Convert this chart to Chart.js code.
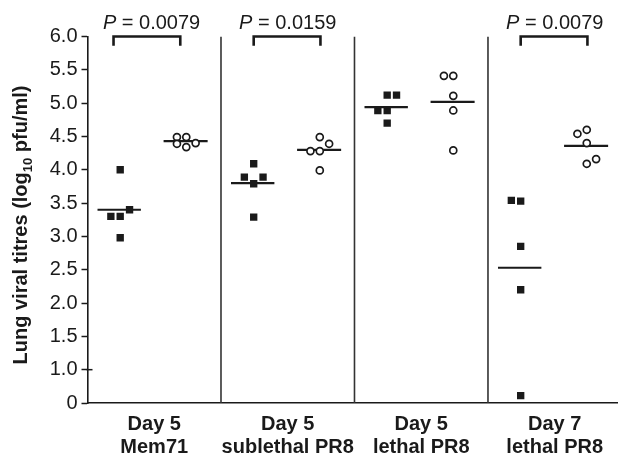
<!DOCTYPE html>
<html>
<head>
<meta charset="utf-8">
<script src="https://cdn.jsdelivr.net/npm/chart.js@4/dist/chart.umd.min.js"></script>
<style>
html,body{margin:0;padding:0;background:#fff;}
canvas{display:block;}
</style>
</head>
<body>
<canvas id="c" width="618" height="458"></canvas>
<script>
// ---- data ----
const categories = [['Day 5','Mem71'],['Day 5','sublethal PR8'],['Day 5','lethal PR8'],['Day 7','lethal PR8']];
const squareValues = [
  [4.00, 3.30, 3.30, 3.40, 2.98],
  [4.09, 3.89, 3.89, 3.79, 3.29],
  [5.12, 5.12, 4.89, 4.89, 4.70],
  [3.54, 3.53, 2.85, 2.20, 0.61]
];
const circleValues = [
  [4.49, 4.49, 4.39, 4.34, 4.40],
  [4.49, 4.39, 4.28, 4.28, 3.99],
  [5.41, 5.41, 5.11, 4.89, 4.29],
  [4.54, 4.60, 4.40, 4.09, 4.16]
];
const squareMeans = [3.40, 3.80, 4.94, 2.53];
const circleMeans = [4.43, 4.30, 5.02, 4.36];
const pValues = ['0.0079', '0.0159', null, '0.0079'];
const yTickValues = [0.5, 1.0, 1.5, 2.0, 2.5, 3.0, 3.5, 4.0, 4.5, 5.0, 5.5, 6.0];
const yTickLabels = ['0', '1.0', '1.5', '2.0', '2.5', '3.0', '3.5', '4.0', '4.5', '5.0', '5.5', '6.0'];
// jitter slots (horizontal placement of overlapping points)
const squareJitter = [[0,-1,0,1,0],[0,-1,1,0,0],[0,1,-1,0,0],[-1,0,0,0,0]];
const circleJitter = [[-1,0,-1,0,1],[0,1,-1,0,0],[-1,0,0,0,0],[-1,0,0,0,1]];
const bracketShift = [-0.05, 0, 0, 0];

// ---- layout constants ----
const SQ_OFF = -0.255, CI_OFF = 0.24, JIT = 0.07;
const INK = '#1a1a1a';
const FONT = '"Liberation Sans", Arial, sans-serif';

const datasets = [];
const sqPts = [], ciPts = [];
squareValues.forEach((arr, g) => arr.forEach((v, i) => sqPts.push({x: g + SQ_OFF + squareJitter[g][i]*JIT, y: v})));
circleValues.forEach((arr, g) => arr.forEach((v, i) => ciPts.push({x: g + CI_OFF + circleJitter[g][i]*JIT, y: v})));
datasets.push({type:'scatter', data: sqPts, pointStyle:'rect', pointRadius:5.2, pointHoverRadius:5.2,
  backgroundColor: INK, borderColor: INK, borderWidth: 0, order: 0});
datasets.push({type:'scatter', data: ciPts, pointStyle:'circle', pointRadius:3.5, pointHoverRadius:3.5,
  backgroundColor: '#fff', borderColor: INK, borderWidth: 1.7, order: 0});
squareMeans.forEach((m, g) => datasets.push({type:'line', data:[{x:g-0.425,y:m},{x:g-0.10,y:m}],
  borderColor: INK, borderWidth: 2.2, pointRadius: 0, order: 1}));
circleMeans.forEach((m, g) => datasets.push({type:'line', data:[{x:g+0.07,y:m},{x:g+0.40,y:m}],
  borderColor: INK, borderWidth: 2.2, pointRadius: 0, order: 1}));
[0.5, 1.5, 2.5].forEach(x => datasets.push({type:'line', data:[{x:x,y:0.5},{x:x,y:6.0}],
  borderColor: '#333', borderWidth: 1.6, pointRadius: 0, order: 3}));
pValues.forEach((p, g) => {
  if (!p) return;
  const a = g - 0.255 + bracketShift[g], b = g + 0.245 + bracketShift[g];
  datasets.push({type:'line', data:[{x:a,y:5.86},{x:a,y:6.0},{x:b,y:6.0},{x:b,y:5.86}],
    borderColor: INK, borderWidth: 2.6, pointRadius: 0, clip: false, order: 2, borderCapStyle:'butt', borderJoinStyle:'miter'});
});

const extras = {
  id: 'extras',
  afterDraw(chart) {
    const ctx = chart.ctx, xs = chart.scales.x, ys = chart.scales.y;
    ctx.save();
    ctx.fillStyle = INK;
    pValues.forEach((p, g) => {
      if (!p) return;
      const cx = xs.getPixelForValue(g + bracketShift[g]*0.4);
      const fi = 'italic 20px ' + FONT;
      const fr = '20px ' + FONT;
      ctx.font = fi; const wP = ctx.measureText('P').width;
      ctx.font = fr; const rest = ' = ' + p; const wR = ctx.measureText(rest).width;
      const x0 = cx - (wP + wR)/2, yb = 28.5;
      ctx.textBaseline = 'alphabetic'; ctx.textAlign = 'left';
      ctx.font = fi; ctx.fillText('P', x0, yb);
      ctx.font = fr; ctx.fillText(rest, x0 + wP, yb);
    });
    const parts = [['Lung viral titres (log', 'bold 20px ' + FONT, 0],
                   ['10', 'bold 13px ' + FONT, 5],
                   [' pfu/ml)', 'bold 20px ' + FONT, 0]];
    let total = 0;
    parts.forEach(p => { ctx.font = p[1]; p.push(ctx.measureText(p[0]).width); total += p[3]; });
    ctx.translate(27, 225);
    ctx.rotate(-Math.PI/2);
    let x = -total/2;
    parts.forEach(p => { ctx.font = p[1]; ctx.fillText(p[0], x, p[2]); x += p[3]; });
    ctx.restore();
    ctx.save();
    ctx.strokeStyle = INK; ctx.lineWidth = 1.5;
    const yy = ys.getPixelForValue(1.0), ax = chart.chartArea.left;
    ctx.beginPath(); ctx.moveTo(ax - 1, yy); ctx.lineTo(ax + 5, yy); ctx.stroke();
    ctx.restore();
  }
};

new Chart(document.getElementById('c'), {
  type: 'scatter',
  data: { datasets },
  options: {
    responsive: false,
    devicePixelRatio: 1,
    animation: false,
    events: [],
    layout: { autoPadding: false, padding: { left: 0, top: 36.5, right: 0, bottom: 0 } },
    plugins: { legend: { display: false }, tooltip: { enabled: false } },
    scales: {
      x: {
        type: 'linear', min: -0.5, max: 3.474,
        afterFit(s) { s.height = 55; s.paddingLeft = 0; s.paddingRight = 0; },
        afterBuildTicks(s) { s.ticks = categories.map((c, i) => ({value: i})); },
        grid: { display: false },
        border: { display: true, color: INK, width: 1.6 },
        ticks: {
          autoSkip: false, maxRotation: 0, padding: 2, color: INK,
          font: { family: FONT, size: 20, weight: 'bold', lineHeight: 1.165 },
          callback: (v) => categories[Math.round(v)]
        }
      },
      y: {
        type: 'linear', min: 0.5, max: 6.0,
        afterFit(s) { s.width = 87.5; },
        afterBuildTicks(s) { s.ticks = yTickValues.map(v => ({value: v})); },
        grid: { display: true, drawOnChartArea: false, drawTicks: true, tickLength: 6, tickColor: INK, tickWidth: 1.5 },
        border: { display: true, color: INK, width: 1.6 },
        ticks: {
          padding: 4, color: INK,
          font: { family: FONT, size: 20 },
          callback: (v) => { const i = yTickValues.indexOf(v); return i >= 0 ? yTickLabels[i] : ''; }
        }
      }
    }
  },
  plugins: [extras]
});
</script>
</body>
</html>
